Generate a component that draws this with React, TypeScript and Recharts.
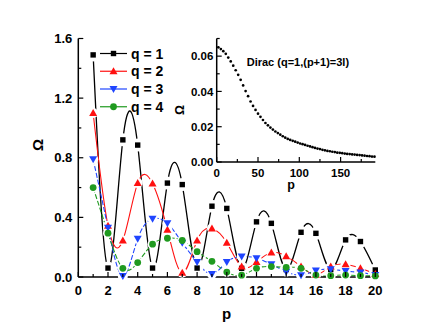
import React from "react";
import { ComposedChart, ScatterChart, Line, Scatter, XAxis, YAxis, CartesianGrid } from "recharts";

// p values of the main panel
const pMain = [1, 2, 3, 4, 5, 6, 7, 8, 9, 10, 11, 12, 13, 14, 15, 16, 17, 18, 19, 20];

// Omega for each q
const omegaQ1 = [1.49, 0.06, 0.92, 0.885, 0.06, 0.63, 0.62, 0.06, 0.475, 0.46, 0.058, 0.37, 0.36, 0.05, 0.3, 0.293, 0.05, 0.249, 0.238, 0.047];
const omegaQ2 = [1.1, 0.344, 0.245, 0.63, 0.627, 0.317, 0.028, 0.245, 0.326, 0.23, 0.07, 0.1, 0.164, 0.14, 0.07, 0.015, 0.07, 0.085, 0.058, 0.02];
const omegaQ3 = [0.79, 0.33, 0.007, 0.256, 0.39, 0.36, 0.23, 0.1, 0.02, 0.1, 0.137, 0.126, 0.085, 0.036, 0.012, 0.043, 0.052, 0.04, 0.03, 0.013];
const omegaQ4 = [0.6, 0.294, 0.058, 0.097, 0.22, 0.26, 0.245, 0.17, 0.105, 0.033, 0.012, 0.058, 0.07, 0.065, 0.058, 0.013, 0.009, 0.013, 0.009, 0.007];

// inset: Dirac (q=1, (p+1)=3l)
const diracP = [
  2, 5, 8, 11, 14, 17, 20, 23, 26, 29, 32, 35, 38, 41, 44, 47, 50, 53, 56, 59, 62, 65, 68, 71, 74, 77, 80, 83, 86, 89, 92, 95,
  98, 101, 104, 107, 110, 113, 116, 119, 122, 125, 128, 131, 134, 137, 140, 143, 146, 149, 152, 155, 158, 161, 164, 167, 170,
  173, 176, 179, 182, 185, 188, 191,
];
const diracOmega = [
  0.065, 0.064, 0.0628, 0.0613, 0.0592, 0.057, 0.0546, 0.052, 0.0494, 0.0466,
  0.0434, 0.0402, 0.0373, 0.0343, 0.0318, 0.0295, 0.0274, 0.0256, 0.0238, 0.0221,
  0.0208, 0.0195, 0.0184, 0.0173, 0.0164, 0.0155, 0.0146, 0.0138, 0.0131, 0.0125,
  0.012, 0.0115, 0.011, 0.0105, 0.0101, 0.0097, 0.0092, 0.0088, 0.0084, 0.008,
  0.0076, 0.0073, 0.0069, 0.0066, 0.0063, 0.0061, 0.0058, 0.0056, 0.0053, 0.0052,
  0.005, 0.0048, 0.0046, 0.0045, 0.0043, 0.0042, 0.004, 0.0039, 0.0037, 0.0036,
  0.0034, 0.0033, 0.0031, 0.003,
];

const mainXTicks = [0, 1, 2, 3, 4, 5, 6, 7, 8, 9, 10, 11, 12, 13, 14, 15, 16, 17, 18, 19, 20];
const mainYTicks = [0, 0.2, 0.4, 0.6, 0.8, 1.0, 1.2, 1.4, 1.6];
const insetXTicks = [0, 25, 50, 75, 100, 125, 150, 175];
const insetYTicks = [0, 0.01, 0.02, 0.03, 0.04, 0.05, 0.06, 0.07];

const legendNames = ["q = 1", "q = 2", "q = 3", "q = 4"];

const FONT = "'Liberation Sans', Arial, Helvetica, sans-serif";
const AXIS = { stroke: "#000", strokeWidth: 1.5 };

const rowsOf = (ys: number[]) => pMain.map((p, i) => ({ p, v: ys[i] }));
const diracRows = diracP.map((p, i) => ({ p, v: diracOmega[i] }));

type Kind = "square" | "up" | "down" | "circle";

const series = [
  { name: legendNames[0], rows: rowsOf(omegaQ1), color: "#000000", kind: "square" as Kind, dash: undefined, width: 1.3, halo: 6.5 },
  { name: legendNames[1], rows: rowsOf(omegaQ2), color: "#ff1010", kind: "up" as Kind, dash: undefined, width: 1.1, halo: 5 },
  { name: legendNames[2], rows: rowsOf(omegaQ3), color: "#1f45ff", kind: "down" as Kind, dash: "5 2", width: 1.1, halo: 5 },
  { name: legendNames[3], rows: rowsOf(omegaQ4), color: "#1f9a1f", kind: "circle" as Kind, dash: "5 2", width: 1.1, halo: 5 },
];

const isStep = (v: number, step: number) => Math.abs(v / step - Math.round(v / step)) < 1e-6;

function Marker({ kind, color, cx, cy }: { kind: Kind; color: string; cx: number; cy: number }) {
  if (cx == null || cy == null) return null;
  if (kind === "square") return <rect x={cx - 2.7} y={cy - 2.7} width={5.4} height={5.4} fill={color} />;
  if (kind === "circle") return <circle cx={cx} cy={cy} r={3.4} fill={color} />;
  if (kind === "up")
    return <polygon points={`${cx},${cy - 4} ${cx + 4},${cy + 3} ${cx - 4},${cy + 3}`} fill={color} />;
  return <polygon points={`${cx},${cy + 4} ${cx + 4},${cy - 3} ${cx - 4},${cy - 3}`} fill={color} />;
}

// ticks point inward, Origin style
const LeftTick = (props: any) => {
  const { x, y, payload, gap, majorStep, digits, fontSize } = props;
  const v = payload.value;
  const major = isStep(v, majorStep);
  const ax = x + gap;
  return (
    <g>
      <line x1={ax} x2={ax + (major ? 5 : 3)} y1={y} y2={y} stroke="#000" strokeWidth={1.2} />
      {major && (
        <text x={x} y={y + fontSize * 0.36} textAnchor="end" fontFamily={FONT} fontWeight="bold" fontSize={fontSize} fill="#000">
          {v.toFixed(digits)}
        </text>
      )}
    </g>
  );
};

const BottomTick = (props: any) => {
  const { x, y, payload, majorStep, fontSize, drop } = props;
  const v = payload.value;
  const major = isStep(v, majorStep);
  return (
    <g>
      <line x1={x} x2={x} y1={y} y2={y - (major ? 5 : 3)} stroke="#000" strokeWidth={1.2} />
      {major && (
        <text x={x} y={y + drop} textAnchor="middle" fontFamily={FONT} fontWeight="bold" fontSize={fontSize} fill="#000">
          {v}
        </text>
      )}
    </g>
  );
};

const TopTick = (props: any) => {
  const { x, y, payload, majorStep } = props;
  const major = isStep(payload.value, majorStep);
  return <line x1={x} x2={x} y1={y} y2={y + (major ? 5 : 3)} stroke="#000" strokeWidth={1.2} />;
};

const RightTick = (props: any) => {
  const { x, y, payload, majorStep } = props;
  const major = isStep(payload.value, majorStep);
  return <line x1={x} x2={x - (major ? 5 : 3)} y1={y} y2={y} stroke="#000" strokeWidth={1.2} />;
};

const textStyle = { fontFamily: FONT, fontWeight: "bold" as const, fill: "#000" };

export default function App() {
  return (
    <div style={{ position: "absolute", left: 0, top: 0, width: 436, height: 333, background: "#fff" }}>
      <ComposedChart width={436} height={333} margin={{ top: 38.5, right: 60.7, bottom: 26, left: 28.3 }}>
        {series.map((s) => (
          <Line
            key={"l" + s.name}
            xAxisId="b"
            yAxisId="l"
            data={s.rows}
            dataKey="v"
            type="natural"
            stroke={s.color}
            strokeWidth={s.width}
            strokeDasharray={s.dash}
            dot={false}
            activeDot={false}
            isAnimationActive={false}
          />
        ))}
        {series.map((s) => (
          <Scatter
            key={"h" + s.name}
            xAxisId="b"
            yAxisId="l"
            data={s.rows}
            dataKey="v"
            isAnimationActive={false}
            shape={(pr: any) => <circle cx={pr.cx} cy={pr.cy} r={s.halo} fill="#fff" />}
          />
        ))}
        {series.map((s) => (
          <Scatter
            key={"m" + s.name}
            xAxisId="b"
            yAxisId="l"
            data={s.rows}
            dataKey="v"
            isAnimationActive={false}
            shape={(pr: any) => <Marker kind={s.kind} color={s.color} cx={pr.cx} cy={pr.cy} />}
          />
        ))}
        <XAxis
          xAxisId="b"
          type="number"
          dataKey="p"
          domain={[0, 20]}
          ticks={mainXTicks}
          interval={0}
          height={30}
          tickLine={false}
          tickSize={0}
          tickMargin={0}
          axisLine={AXIS}
          tick={(pr: any) => <BottomTick {...pr} majorStep={2} fontSize={13} drop={18} />}
        />
        <XAxis
          xAxisId="t"
          orientation="top"
          type="number"
          domain={[0, 20]}
          ticks={mainXTicks}
          interval={0}
          height={0}
          tickLine={false}
          tickSize={0}
          tickMargin={0}
          axisLine={AXIS}
          tick={(pr: any) => <TopTick {...pr} majorStep={2} />}
        />
        <YAxis
          yAxisId="l"
          type="number"
          dataKey="v"
          domain={[0, 1.6]}
          ticks={mainYTicks}
          interval={0}
          width={50}
          tickLine={false}
          tickSize={0}
          tickMargin={6}
          axisLine={AXIS}
          tick={(pr: any) => <LeftTick {...pr} gap={6} majorStep={0.4} digits={1} fontSize={13} />}
        />
        <YAxis
          yAxisId="r"
          orientation="right"
          type="number"
          domain={[0, 1.6]}
          ticks={mainYTicks}
          interval={0}
          width={0}
          tickLine={false}
          tickSize={0}
          tickMargin={0}
          axisLine={AXIS}
          tick={(pr: any) => <RightTick {...pr} majorStep={0.4} />}
        />
      </ComposedChart>

      <div style={{ position: "absolute", left: 150, top: 30 }}>
        <ScatterChart width={240} height={170} margin={{ top: 8.5, right: 14.7, bottom: 18, left: 26.7 }}>
          <CartesianGrid xAxisId="b" yAxisId="l" horizontal={false} vertical={false} fill="#fff" />
          <Scatter
            xAxisId="b"
            yAxisId="l"
            data={diracRows}
            dataKey="v"
            isAnimationActive={false}
            shape={(pr: any) => <circle cx={pr.cx} cy={pr.cy} r={1.35} fill="#000" />}
          />
          <XAxis
            xAxisId="b"
            type="number"
            dataKey="p"
            domain={[0, 192]}
            ticks={insetXTicks}
            interval={0}
            height={20}
            tickLine={false}
            tickSize={0}
            tickMargin={0}
            axisLine={AXIS}
            tick={(pr: any) => <BottomTick {...pr} majorStep={50} fontSize={11.5} drop={15} />}
          />
          <XAxis
            xAxisId="t"
            orientation="top"
            type="number"
            domain={[0, 192]}
            ticks={insetXTicks}
            interval={0}
            height={0}
            tickLine={false}
            tickSize={0}
            tickMargin={0}
            axisLine={AXIS}
            tick={(pr: any) => <TopTick {...pr} majorStep={50} />}
          />
          <YAxis
            yAxisId="l"
            type="number"
            dataKey="v"
            domain={[0, 0.07]}
            ticks={insetYTicks}
            interval={0}
            width={40}
            tickLine={false}
            tickSize={0}
            tickMargin={3.4}
            axisLine={AXIS}
            tick={(pr: any) => <LeftTick {...pr} gap={3.4} majorStep={0.02} digits={2} fontSize={11.5} />}
          />
          <YAxis
            yAxisId="r"
            orientation="right"
            type="number"
            domain={[0, 0.07]}
            ticks={insetYTicks}
            interval={0}
            width={0}
            tickLine={false}
            tickSize={0}
            tickMargin={0}
            axisLine={AXIS}
            tick={(pr: any) => <RightTick {...pr} majorStep={0.02} />}
          />
        </ScatterChart>
      </div>

      <svg width={436} height={333} style={{ position: "absolute", left: 0, top: 0, pointerEvents: "none" }}>
        {series.map((s, i) => {
          const cy = 53.5 + i * 17.75;
          return (
            <g key={"lg" + s.name}>
              <line x1={100} x2={127} y1={cy} y2={cy} stroke={s.color} strokeWidth={1.2} />
              <Marker kind={s.kind} color={s.color} cx={113.5} cy={cy} />
              <text x={131} y={cy + 5} fontSize={14} {...textStyle}>
                {s.name}
              </text>
            </g>
          );
        })}
        <text x={226.7} y={319} fontSize={15} textAnchor="middle" {...textStyle}>
          p
        </text>
        <text transform="translate(42.5,145) rotate(-90)" fontSize={15} textAnchor="middle" {...textStyle}>
          Ω
        </text>
        <text x={246.7} y={65.5} fontSize={11} {...textStyle}>
          Dirac (q=1,(p+1)=3l)
        </text>
        <text x={291} y={188.5} fontSize={12.5} textAnchor="middle" {...textStyle}>
          p
        </text>
        <text transform="translate(183.5,110) rotate(-90)" fontSize={12.5} textAnchor="middle" {...textStyle}>
          Ω
        </text>
      </svg>
    </div>
  );
}
